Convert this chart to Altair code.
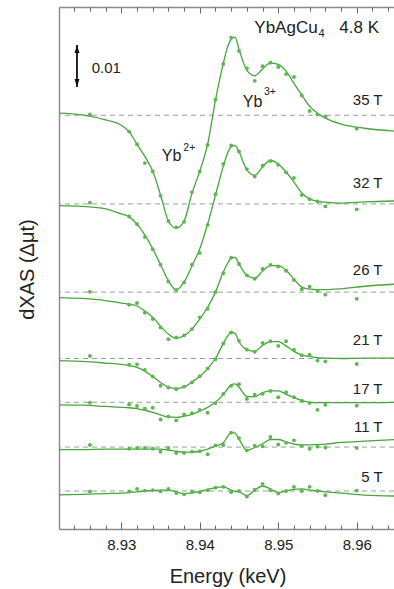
import altair as alt
import pandas as pd

# ---------------------------------------------------------------------------
# Data: differential XAS (field-on minus field-off) of YbAgCu4 at 4.8 K
# values in units of 1e-3 (delta mu t); curves are stacked by a vertical offset
# ---------------------------------------------------------------------------
fields = ["35 T", "32 T", "26 T", "21 T", "17 T", "11 T", "5 T"]
offsets = [0.09857, 0.07745, 0.05643, 0.04062, 0.03019, 0.01952, 0.00905]
label_y = [0.10093, 0.08129, 0.06057, 0.04379, 0.03207, 0.02319, 0.01112]

# energies (keV) of the fitted curves
fit_energy = [8.922, 8.925, 8.928, 8.930, 8.931, 8.932, 8.933, 8.934, 8.935,
              8.936, 8.937, 8.938, 8.939, 8.940, 8.941, 8.942, 8.943, 8.9435,
              8.944, 8.9445, 8.945, 8.946, 8.947, 8.948, 8.949, 8.950, 8.951,
              8.952, 8.953, 8.954, 8.955, 8.956, 8.958, 8.961, 8.965]

fit_35 = [0.5, 0.1, -1.1, -2.4, -3.9, -6.9, -9.8, -13.3, -19.0, -25.2, -26.9,
          -25.2, -18.6, -13.3, -6.9, 3.6, 12.4, 16.0, 18.1, 18.6, 15.7, 10.7,
          9.4, 11.0, 12.5, 12.1, 10.5, 7.6, 4.8, 2.1, 0.5, -0.7, -2.1, -3.1, -3.8]
fit_32 = [-0.4, -0.6, -1.2, -2.4, -3.1, -4.8, -7.4, -10.7, -14.5, -18.3, -20.5,
          -18.6, -14.8, -10.7, -4.8, 2.1, 9.0, 11.9, 13.6, 13.9, 12.4, 8.1,
          6.8, 8.8, 10.4, 9.5, 7.6, 5.2, 2.6, 1.2, 0.6, 0.4, 0.2, 0.5, 0.7]
fit_26 = [-1.3, -1.5, -2.0, -2.6, -2.9, -3.3, -4.5, -6.0, -8.1, -10.0, -11.0,
          -10.4, -8.8, -6.4, -3.6, 0.0, 4.8, 6.7, 8.1, 8.3, 6.7, 4.0,
          3.3, 5.0, 6.3, 6.3, 5.2, 3.1, 1.2, 0.7, 0.6, 0.6, 0.8, 1.4, 1.9]
fit_21 = [-0.5, -0.7, -1.1, -1.4, -1.7, -2.1, -3.0, -4.3, -5.7, -6.8, -7.1,
          -6.8, -5.6, -4.3, -2.4, 0.0, 3.6, 5.2, 6.2, 6.0, 4.0, 2.1,
          1.7, 3.1, 4.0, 4.0, 3.0, 1.7, 0.8, 0.5, 0.2, 0.1, 0.0, 0.1, 0.1]
fit_17 = [-0.6, -0.7, -1.0, -1.2, -1.3, -1.5, -1.9, -2.4, -3.0, -3.5, -3.6,
          -3.3, -2.9, -2.1, -1.2, 0.0, 1.9, 3.1, 4.2, 4.4, 3.6, 1.4,
          1.3, 2.3, 2.7, 2.7, 1.9, 1.1, 0.4, 0.0, -0.1, -0.1, -0.1, -0.1, 0.0]
fit_11 = [-0.6, -0.6, -0.5, -0.5, -0.5, -0.5, -0.5, -0.5, -0.5, -0.7, -1.0,
          -1.2, -1.2, -1.0, -0.5, 0.2, 1.0, 2.4, 3.5, 3.3, 1.9, -0.8,
          -0.1, 0.8, 1.8, 1.8, 1.2, 0.7, 0.5, 0.5, 0.6, 0.7, 1.1, 1.4, 1.8]
fit_5 = [-0.9, -0.8, -0.6, -0.5, -0.4, -0.2, 0.0, 0.1, 0.2, 0.2, -0.2,
         -0.6, -0.5, -0.1, 0.4, 0.8, 1.0, 0.7, 0.2, -0.1, -0.2, -1.1,
         0.2, 1.2, 0.5, -0.4, 0.0, 0.4, 0.5, 0.2, 0.0, -0.2, -0.5, -1.0, -1.2]

# energies (keV) of the measured points
pt_energy = [8.926, 8.931, 8.932, 8.933, 8.934, 8.935, 8.936, 8.937, 8.938,
             8.939, 8.940, 8.941, 8.942, 8.943, 8.944, 8.945, 8.946, 8.947,
             8.948, 8.949, 8.950, 8.951, 8.952, 8.953, 8.954, 8.955, 8.956,
             8.960]

pts_35 = [0.2, -3.9, -6.9, -11.4, -13.4, -19.2, -25.2, -26.7, -25.4, -18.3,
          -13.4, -7.1, 3.7, 12.2, 18.5, 15.3, 11.2, 8.2, 11.7, 12.5, 11.5,
          9.8, 9.1, 4.7, 1.0, 0.2, -0.3, -3.2]
pts_32 = [0.3, -3.0, -4.8, -7.9, -10.8, -14.5, -18.5, -20.5, -18.7, -14.5,
          -11.7, -5.0, 2.3, 9.5, 13.9, 12.5, 8.3, 6.5, 9.1, 10.2, 9.3,
          7.5, 6.2, 2.1, 1.1, 0.6, -0.6, -1.3]
pts_26 = [0.1, -3.0, -2.6, -4.9, -6.4, -8.4, -11.2, -10.8, -10.3, -8.8,
          -6.0, -4.0, 0.0, 4.5, 8.2, 6.7, 4.0, 3.2, 5.5, 6.5, 6.1,
          5.1, 2.9, 0.7, 1.3, 0.3, -0.6, -1.6]
pts_21 = [0.6, -1.5, -1.4, -2.7, -4.3, -6.5, -6.9, -7.3, -6.7, -5.7,
          -4.2, -2.4, -0.2, 3.6, 6.2, 4.2, 2.1, 1.6, 3.7, 4.1, 3.0,
          4.1, 2.1, 0.8, 0.9, -0.5, -0.7, -1.3]
pts_17 = [-0.1, -0.5, -0.9, -1.5, -1.3, -4.1, -3.4, -4.3, -2.9, -2.6,
          -1.8, -2.5, -0.2, 2.0, 3.9, 4.3, 0.8, 1.8, 2.0, 2.7, 1.2,
          2.4, 1.2, 0.4, -0.2, -1.8, -0.6, -0.8]
pts_11 = [0.5, -0.4, -0.2, -0.2, -0.4, -1.1, -0.2, -1.4, -1.4, -1.1,
          -1.0, -1.7, 0.4, 0.5, 3.4, 2.1, -0.8, 0.3, 0.2, 2.4, 0.6,
          1.0, 1.6, 0.3, -0.4, 0.1, -0.1, -0.2]
pts_5 = [-0.1, -0.1, 0.5, 0.1, 0.2, -0.1, 0.5, -0.5, -0.8, -0.1,
         -0.3, 0.2, 0.8, 1.0, -0.3, 0.0, -1.3, 0.3, 1.7, 0.2, -0.6,
         0.0, 1.0, 0.0, 1.0, 0.0, -1.0, 0.1]

fits = [fit_35, fit_32, fit_26, fit_21, fit_17, fit_11, fit_5]
points = [pts_35, pts_32, pts_26, pts_21, pts_17, pts_11, pts_5]

# scale bar (0.01 in delta mu t)
bar_energy = 8.92435
bar_low = 0.1053
bar_span = 0.01

# axis ticks
major_ticks = [8.93, 8.94, 8.95, 8.96]
minor_ticks = [8.924, 8.926, 8.928, 8.932, 8.934, 8.936, 8.938, 8.942, 8.944,
               8.946, 8.948, 8.952, 8.954, 8.956, 8.958, 8.962, 8.964]

# ---------------------------------------------------------------------------
# Tables
# ---------------------------------------------------------------------------
fit_rows, pt_rows = [], []
for name, off, fvals, pvals in zip(fields, offsets, fits, points):
    for e, v in zip(fit_energy, fvals):
        fit_rows.append({"field": name, "E": e, "y": off + v * 1e-3})
    for e, v in zip(pt_energy, pvals):
        pt_rows.append({"field": name, "E": e, "y": off + v * 1e-3})
fit_df = pd.DataFrame(fit_rows)
pt_df = pd.DataFrame(pt_rows)
base_df = pd.DataFrame({"field": fields, "offset": offsets})
label_df = pd.DataFrame({"field": fields, "E": [8.96329] * len(fields), "y": label_y})

notes_df = pd.DataFrame([
    {"text": "YbAgCu", "E": 8.94695, "y": 0.11810, "fs": 17},
    {"text": "4", "E": 8.95513, "y": 0.11721, "fs": 11},
    {"text": "4.8 K", "E": 8.95778, "y": 0.11810, "fs": 17},
    {"text": "Yb", "E": 8.93515, "y": 0.08776, "fs": 16},
    {"text": "2+", "E": 8.93790, "y": 0.09014, "fs": 10.5},
    {"text": "Yb", "E": 8.94547, "y": 0.10062, "fs": 16},
    {"text": "3+", "E": 8.94818, "y": 0.10340, "fs": 10.5},
    {"text": "0.01", "E": 8.92623, "y": 0.10855, "fs": 15},
])

bar_df = pd.DataFrame({"E": [bar_energy], "lo": [bar_low], "hi": [bar_low + bar_span]})
tick_df = pd.DataFrame({"E": major_ticks + minor_ticks})

# ---------------------------------------------------------------------------
# Chart
# ---------------------------------------------------------------------------
W, H = 335, 522
FONT = "Liberation Sans"
TEXT = "#222222"
FRAME = "#8a8a8a"
TICK = "#666666"
LINE_GREEN = "#48a53e"
DOT_GREEN = "#5cb84e"

xs = alt.Scale(domain=[8.92206, 8.96475], nice=False, zero=False)
ys = alt.Scale(domain=[0, 0.12436], nice=False, zero=False)

x_axis = alt.Axis(
    values=major_ticks, format=".2f", grid=False, domain=True,
    domainColor=FRAME, domainWidth=1.4, ticks=False,
    tickSize=0, labelPadding=20, labelBaseline="alphabetic", labelFontSize=15,
    labelColor=TEXT, labelFont=FONT, title="Energy (keV)", titleFontSize=20,
    titleFontWeight="normal", titleColor=TEXT, titleFont=FONT,
    titleBaseline="alphabetic", titleX=168.5, titleY=53,
)
y_axis = alt.Axis(
    grid=False, domain=True, domainColor=FRAME, domainWidth=1.4, ticks=False,
    labels=False, title="dXAS (Δμt)",
    titleFontSize=20, titleFontWeight="normal", titleColor=TEXT, titleFont=FONT,
    titleBaseline="alphabetic", titleX=-26, titleY=262, titleAngle=270,
    titleAlign="center",
)


def tick_axis(orient, values, size, domain=False):
    # an unlabeled axis shifted across the plot so its ticks point inward
    kw = dict(orient=orient, offset=-H, values=values, labels=False,
              ticks=True, tickSize=size, tickColor=TICK, tickWidth=1,
              grid=False, title=None, domain=domain)
    if domain:
        kw.update(domainColor=FRAME, domainWidth=1.4)
    return alt.Axis(**kw)


def X(axis=None):
    return alt.X("E:Q", scale=xs, axis=axis)


def Y(field):
    return alt.Y(field, scale=ys, axis=y_axis)


baselines = alt.Chart(base_df).mark_rule(
    color="#9c9c9c", strokeDash=[5, 4], strokeWidth=1
).encode(y=Y("offset:Q"))

curves = alt.Chart(fit_df).mark_line(
    color=LINE_GREEN, strokeWidth=1.3, interpolate="monotone", clip=True
).encode(x=X(x_axis), y=Y("y:Q"), detail="field:N")

dots = alt.Chart(pt_df).mark_circle(color=DOT_GREEN, size=15, opacity=1).encode(
    x=X(), y=Y("y:Q")
)

field_labels = alt.Chart(label_df).mark_text(
    align="right", baseline="alphabetic", fontSize=15, font=FONT, color=TEXT
).encode(x=X(), y=Y("y:Q"), text="field:N")

notes = alt.Chart(notes_df).mark_text(
    align="left", baseline="alphabetic", font=FONT, color=TEXT
).encode(
    x=X(), y=Y("y:Q"), text="text:N",
    size=alt.Size("fs:Q", scale=None),
)

bar_rule = alt.Chart(bar_df).mark_rule(color="#111111", strokeWidth=1.8).encode(
    x=X(), y=Y("lo:Q"), y2="hi:Q"
)
bar_top = alt.Chart(bar_df).mark_point(
    shape="M0,0L0.5,1.6L-0.5,1.6Z", filled=True, color="#111111", size=100, opacity=1
).encode(x=X(), y=Y("hi:Q"))
bar_bottom = alt.Chart(bar_df).mark_point(
    shape="M0,0L0.5,-1.6L-0.5,-1.6Z", filled=True, color="#111111", size=100, opacity=1
).encode(x=X(), y=Y("lo:Q"))

# inward ticks: bottom edge (top-oriented axes moved down) and
# top edge (bottom-oriented axes moved up, drawing the top frame line too)
def tick_layer(axis):
    return alt.Chart(tick_df).mark_point(opacity=0).encode(x=X(axis))

ticks_bottom_major = tick_layer(tick_axis("top", major_ticks, 7))
ticks_bottom_minor = tick_layer(tick_axis("top", minor_ticks, 4))
ticks_top_major = tick_layer(tick_axis("bottom", major_ticks, 6, domain=True))
ticks_top_minor = tick_layer(tick_axis("bottom", minor_ticks, 4))

chart = alt.layer(
    baselines, curves, dots, field_labels, notes, bar_rule, bar_top, bar_bottom,
    ticks_bottom_major, ticks_bottom_minor, ticks_top_major, ticks_top_minor,
).resolve_axis(
    x="independent"
).properties(
    width=W, height=H,
    padding={"left": 59, "top": 7, "right": 0, "bottom": 60},
    autosize=alt.AutoSizeParams(type="none"),
).configure_view(
    stroke=None
).configure(background="white")

chart.save("out.html", embed_options={"renderer": "svg", "actions": False})
